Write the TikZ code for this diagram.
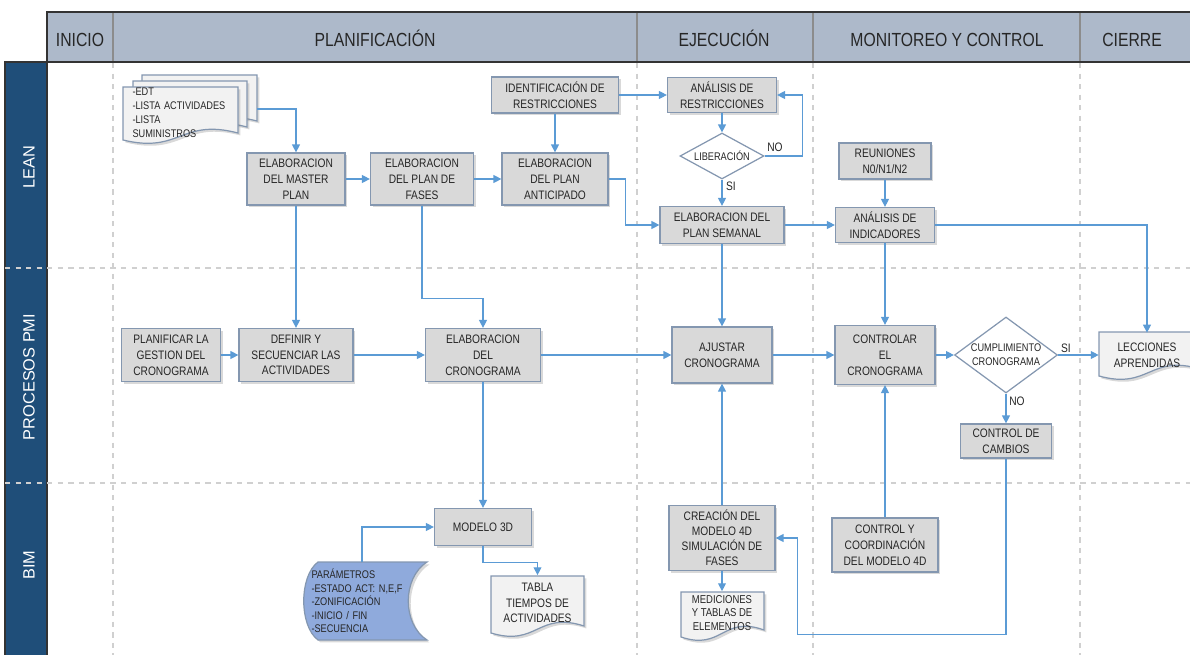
\documentclass[tikz,border=0pt]{standalone}
\usepackage{fontspec}
\setmainfont{Liberation Sans}[FakeStretch=0.83]
\newfontfamily\lanefont{Liberation Sans}
\usepackage{xcolor}
\usetikzlibrary{arrows.meta,positioning,calc,shapes.geometric,shadows}

\definecolor{headblue}{HTML}{ADB9CA}
\definecolor{laneblue}{HTML}{1F4E79}
\definecolor{boxline}{HTML}{8497B0}
\definecolor{boxgray}{HTML}{D9D9D9}
\definecolor{docgray}{HTML}{F2F2F2}
\definecolor{paramblue}{HTML}{8FAADC}
\definecolor{flow}{HTML}{5B9BD5}
\definecolor{gridgray}{HTML}{D0D0D0}
\definecolor{txt}{HTML}{262626}

% page with a wavy lower edge: left, top, right, bottom-left
\newcommand{\docpage}[4]{%
  \draw[docshape] (#1,#2) -- (#3,#2) -- (#3,#4-7)
    .. controls ({(#1+#3)/2},#4-22) and ({(#1+#3)/2},#4+14) .. (#1,#4) -- cycle;}

\begin{document}
\begin{tikzpicture}[x=0.02cm,y=-0.02cm,>={Triangle[length=4.5pt,width=4.5pt]},
  box/.style={draw=boxline,line width=0.7pt,fill=boxgray,text=txt,align=center,inner sep=1pt,
    font=\fontsize{7}{9}\selectfont,
    drop shadow={shadow xshift=1.4pt,shadow yshift=-1.4pt,opacity=0.3}},
  choice/.style={diamond,draw=boxline,line width=0.7pt,fill=white,text=txt,align=center,
    inner sep=0pt,font=\fontsize{6.3}{8}\selectfont},
  docshape/.style={draw=boxline,line width=0.7pt,fill=docgray,
    drop shadow={shadow xshift=1.4pt,shadow yshift=-1.4pt,opacity=0.3}},
  doctext/.style={text=txt,align=center,inner sep=0pt,font=\fontsize{7}{9}\selectfont},
  flowline/.style={->,flow,line width=0.6pt},
  sepline/.style={gridgray,dashed,line width=0.6pt},
  phase/.style={text=txt,anchor=base,font=\fontsize{10.8}{12}\selectfont},
  lane/.style={text=white,rotate=90,font=\lanefont\fontsize{9.3}{11}\selectfont},
  tag/.style={text=txt,inner sep=1pt,font=\fontsize{7}{8}\selectfont}]

  \path[use as bounding box] (0,0) rectangle (1190,655);
  \clip (0,0) rectangle (1190,655);

  % header and lanes
  \fill[headblue] (47,12) rectangle (1190,62);
  \foreach \x in {113,637,813,1080} \draw[black!45,line width=0.6pt] (\x,12) -- (\x,62);
  \draw[black!80,line width=1pt] (47,62) -- (47,12) -- (1190,12);
  \draw[black!80,line width=1.2pt] (5,62) -- (1190,62);
  \filldraw[fill=laneblue,draw=black!80,line width=0.8pt] (5,62) rectangle (47,660);
  \foreach \x in {113,637,813,1080} \draw[sepline] (\x,63) -- (\x,655);
  \foreach \y in {268,483} \draw[sepline] (5,\y) -- (1190,\y);

  \node[phase] (inicio) at (80,47) {INICIO};
  \node[phase] (planificacion) at (375,47) {PLANIFICACIÓN};
  \node[phase] (ejecucion) at (724,47) {EJECUCIÓN};
  \node[phase] (monitoreo) at (947,47) {MONITOREO Y CONTROL};
  \node[phase] (cierre) at (1132,47) {CIERRE};

  \node[lane] (lean) at (29,167) {LEAN};
  \node[lane] (pmi) at (29,377) {PROCESOS PMI};
  \node[lane] (bim) at (29,565) {BIM};

  % LEAN
  \docpage{142}{75}{257}{128}
  \docpage{133}{81}{247}{134}
  \docpage{123}{87}{238}{140}
  \node[doctext,align=left,text width=2.3cm,font=\fontsize{6.3}{7.9}\selectfont] (edt) at (190,113)
    {-EDT\\-LISTA ACTIVIDADES\\-LISTA\\SUMINISTROS};
  \coordinate (edtout) at (257,109);

  \node[box,minimum width=1.96cm,minimum height=1.04cm] (master) at (296,179) {ELABORACION\\DEL MASTER\\PLAN};
  \node[box,minimum width=2.06cm,minimum height=1.04cm] (fases) at (422,179) {ELABORACION\\DEL PLAN DE\\FASES};
  \node[box,minimum width=2.12cm,minimum height=1.04cm] (anticip) at (555,179) {ELABORACION\\DEL PLAN\\ANTICIPADO};
  \node[box,minimum width=2.54cm,minimum height=0.72cm] (identif) at (555,95) {IDENTIFICACIÓN DE\\RESTRICCIONES};
  \node[box,minimum width=2.18cm,minimum height=0.70cm] (analres) at (722,95) {ANÁLISIS DE\\RESTRICCIONES};
  \node[choice,aspect=1.8,minimum width=1.68cm,minimum height=0.92cm] (liber) at (722,156) {LIBERACIÓN};
  \node[box,minimum width=2.48cm,minimum height=0.74cm] (semanal) at (722,225) {ELABORACION DEL\\PLAN SEMANAL};
  \node[box,minimum width=1.84cm,minimum height=0.72cm] (reun) at (885,161) {REUNIONES\\N0/N1/N2};
  \node[box,minimum width=1.98cm,minimum height=0.70cm] (indic) at (885,225) {ANÁLISIS DE\\INDICADORES};

  % PROCESOS PMI
  \node[box,minimum width=1.98cm,minimum height=1.06cm] (planGest) at (171,355) {PLANIFICAR LA\\GESTION DEL\\CRONOGRAMA};
  \node[box,minimum width=2.28cm,minimum height=1.06cm] (definir) at (296,355) {DEFINIR Y\\SECUENCIAR LAS\\ACTIVIDADES};
  \node[box,minimum width=2.30cm,minimum height=1.06cm] (elabCron) at (483,355) {ELABORACION\\DEL\\CRONOGRAMA};
  \node[box,minimum width=2.00cm,minimum height=1.12cm] (ajustar) at (722,355) {AJUSTAR\\CRONOGRAMA};
  \node[box,minimum width=2.00cm,minimum height=1.18cm] (controlar) at (885,355) {CONTROLAR\\EL\\CRONOGRAMA};
  \node[choice,aspect=1.4,minimum width=2.06cm,minimum height=1.52cm] (cumpl) at (1006,355) {CUMPLIMIENTO\\CRONOGRAMA};
  \node[box,minimum width=1.82cm,minimum height=0.68cm] (cambios) at (1006,441) {CONTROL DE\\CAMBIOS};
  \docpage{1099}{332}{1200}{376}
  \node[doctext,minimum width=1.92cm,minimum height=0.88cm] (lecc) at (1147,355) {LECCIONES\\APRENDIDAS};

  % BIM
  \node[box,minimum width=1.94cm,minimum height=0.74cm] (modelo) at (483,527) {MODELO 3D};
  \draw[draw=boxline,line width=0.7pt,fill=paramblue,
    drop shadow={shadow xshift=1.4pt,shadow yshift=-1.4pt,opacity=0.3}]
    (318,562) -- (427,562) .. controls (402,578) and (402,624) .. (427,640)
    -- (318,640) .. controls (299,626) and (299,576) .. (318,562) -- cycle;
  \node[doctext,align=left,text width=2.3cm,font=\fontsize{6.3}{7.7}\selectfont] (param) at (369,601)
    {PARÁMETROS\\-ESTADO ACT: N,E,F\\-ZONIFICACIÓN\\-INICIO / FIN\\-SECUENCIA};
  \coordinate (paramtop) at (362,562);
  \docpage{491}{576}{584}{633}
  \node[doctext,minimum width=1.86cm,minimum height=1.10cm] (tabla) at (537.5,603) {TABLA\\TIEMPOS DE\\ACTIVIDADES};
  \node[box,minimum width=2.12cm,minimum height=1.30cm,font=\fontsize{7}{8.5}\selectfont] (creacion) at (722,538)
    {CREACIÓN DEL\\MODELO 4D\\SIMULACIÓN DE\\FASES};
  \docpage{681}{592}{764}{637}
  \node[doctext,minimum width=1.66cm,minimum height=0.86cm,font=\fontsize{6.5}{7.9}\selectfont] (medic) at (722,613)
    {MEDICIONES\\Y TABLAS DE\\ELEMENTOS};
  \node[box,minimum width=2.12cm,minimum height=1.08cm] (control4d) at (885,545) {CONTROL Y\\COORDINACIÓN\\DEL MODELO 4D};

  % connectors
  \draw[flowline] (edtout) -| (master.north);
  \draw[flowline] (master) -- (fases);
  \draw[flowline] (fases) -- (anticip);
  \draw[flowline] (identif) -- (anticip);
  \draw[flowline] (identif) -- (analres);
  \draw[flowline] (analres) -- (liber);
  \draw[flowline] (liber.east) -- ++(38,0) |- (analres.east);
  \draw[flowline] (liber) -- (semanal);
  \draw[flowline] (anticip.east) -- ++(17,0) |- (semanal.west);
  \draw[flowline] (semanal) -- (indic);
  \draw[flowline] (reun) -- (indic);
  \draw[flowline] (indic.east) -| (lecc.north);
  \draw[flowline] (master) -- (definir);
  \draw[flowline] (fases.south) -- ++(0,93) -| (elabCron.north);
  \draw[flowline] (semanal) -- (ajustar);
  \draw[flowline] (indic) -- (controlar);
  \draw[flowline] (planGest) -- (definir);
  \draw[flowline] (definir) -- (elabCron);
  \draw[flowline] (elabCron) -- (ajustar);
  \draw[flowline] (ajustar) -- (controlar);
  \draw[flowline] (controlar) -- (cumpl);
  \draw[flowline] (cumpl) -- (lecc);
  \draw[flowline] (cumpl) -- (cambios);
  \draw[flowline] (elabCron) -- (modelo);
  \draw[flowline] (cambios.south) -- ++(0,176) -| ($(creacion.east)+(22,0)$) -- (creacion.east);
  \draw[flowline] (control4d) -- (controlar);
  \draw[flowline] (creacion) -- (ajustar);
  \draw[flowline] (creacion) -- (medic);
  \draw[flowline] (paramtop) |- (modelo.west);
  \draw[flowline] (modelo.south) -- ++(0,16) -| (tabla.north);

  \node[tag] (libNo) at (775,147) {NO};
  \node[tag] (libSi) at (731,186) {SI};
  \node[tag] (cumSi) at (1066,348) {SI};
  \node[tag] (cumNo) at (1017,401) {NO};
\end{tikzpicture}
\end{document}
